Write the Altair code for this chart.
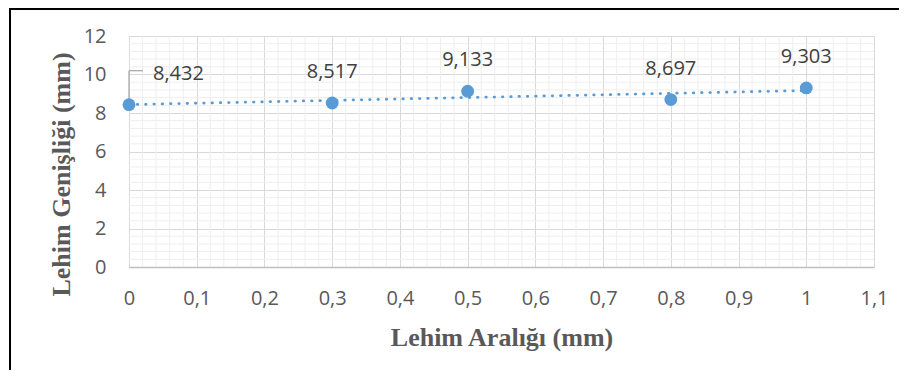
import altair as alt
import pandas as pd

# ---- data ----
x_vals = [0, 0.3, 0.5, 0.8, 1.0]
y_vals = [8.432, 8.517, 9.133, 8.697, 9.303]
x_ticks = [0, 0.1, 0.2, 0.3, 0.4, 0.5, 0.6, 0.7, 0.8, 0.9, 1.0, 1.1]
y_ticks = [0, 2, 4, 6, 8, 10, 12]
x_minor = [round(i * 0.02, 2) for i in range(56) if i % 5 != 0]
y_minor = [round(i * 0.4, 1) for i in range(31) if i % 5 != 0]

df = pd.DataFrame({"x": x_vals, "y": y_vals})

BLUE = "#5B9BD5"
GRAY_TXT = "#595959"
LBL_FONT = "Open Sans"
TTL_FONT = "Liberation Serif"

xs = alt.Scale(domain=[0, 1.1], nice=False, zero=False)
ys = alt.Scale(domain=[0, 12], nice=False)

x_axis = alt.Axis(
    values=x_ticks,
    labelExpr="replace(format(datum.value, '.1~f'), '.', ',')",
    labelFont=LBL_FONT, labelFontSize=20, labelColor=GRAY_TXT,
    labelPadding=21, labelFlush=False, labelOverlap=False,
    ticks=False, grid=True, gridColor="#d9d9d9", gridWidth=1,
    domainColor="#bfbfbf", domainWidth=1.5,
    title="Lehim Aralığı (mm)", titleFont=TTL_FONT, titleFontSize=26,
    titleFontWeight="bold", titleColor=GRAY_TXT, titleY=78,
    titleBaseline="alphabetic",
)
y_axis = alt.Axis(
    values=y_ticks,
    labelFont=LBL_FONT, labelFontSize=20, labelColor=GRAY_TXT,
    labelPadding=23, labelFlush=False, labelOverlap=False,
    ticks=False, domain=False, grid=True, gridColor="#d9d9d9", gridWidth=1,
    title="Lehim Genişliği (mm)", titleFont=TTL_FONT, titleFontSize=26,
    titleFontWeight="bold", titleColor=GRAY_TXT, titleX=-60, titleY=138,
    titleAngle=270, titleAlign="center", titleBaseline="alphabetic",
)

X = alt.X("x:Q", scale=xs, axis=x_axis)
Y = alt.Y("y:Q", scale=ys, axis=y_axis)

minor_x = alt.Chart(pd.DataFrame({"x": x_minor})).mark_rule(
    color="#eeeeee", strokeWidth=1
).encode(x=X)

minor_y = alt.Chart(pd.DataFrame({"y": y_minor})).mark_rule(
    color="#eeeeee", strokeWidth=1
).encode(y=Y)

base = alt.Chart(df)

trend = base.transform_regression("x", "y", extent=[0, 1]).mark_line(
    color=BLUE, strokeWidth=2.75, strokeDash=[0.5, 7.8], strokeCap="round"
).encode(x=X, y=Y)

leader_v = base.transform_filter("datum.x == 0").mark_rule(
    color="#a6a6a6", strokeWidth=1.25, y2Offset=-34
).encode(x=X, y=Y, y2="y:Q")

leader_h = base.transform_filter("datum.x == 0").mark_rule(
    color="#a6a6a6", strokeWidth=1.25, x2Offset=14, yOffset=-34
).encode(x=X, x2="x:Q", y=Y)

points = base.mark_circle(size=165, color=BLUE, opacity=1).encode(x=X, y=Y)

lbl = base.transform_calculate(
    lab="replace(format(datum.y, '.3f'), '.', ',')"
)
labels_first = lbl.transform_filter("datum.x == 0").mark_text(
    align="left", baseline="alphabetic", dx=24, dy=-25,
    font=LBL_FONT, fontSize=20, color="#404040"
).encode(x=X, y=Y, text="lab:N")

labels_rest = lbl.transform_filter("datum.x != 0").mark_text(
    align="center", baseline="alphabetic", dy=-25,
    font=LBL_FONT, fontSize=20, color="#404040"
).encode(x=X, y=Y, text="lab:N")

frame = alt.Chart(pd.DataFrame({"a": [0]})).mark_rect(
    fillOpacity=0, stroke="black", strokeWidth=2
).encode(
    x=alt.value(-119), x2=alt.value(800),
    y=alt.value(-27), y2=alt.value(400),
)

chart = alt.layer(
    minor_x, minor_y, trend, leader_v, leader_h, points,
    labels_first, labels_rest, frame
).properties(
    width=745, height=231,
    autosize=alt.AutoSizeParams(type="none"),
    padding={"left": 121, "top": 28, "right": 25, "bottom": 103},
    background="white",
).configure_view(strokeWidth=0)

chart.save("out.html", embed_options={"renderer": "svg", "actions": False})
